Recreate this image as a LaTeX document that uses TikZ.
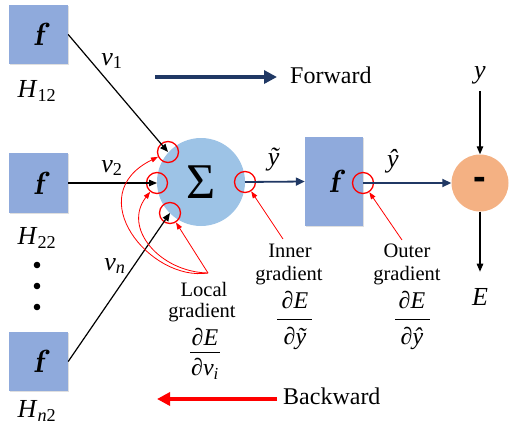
\documentclass[tikz,border=0pt]{standalone}
\usepackage{fontspec}
\setmainfont{Liberation Serif}
\newfontfamily\lsans{Liberation Sans}
\usetikzlibrary{arrows.meta,shadows}
\definecolor{boxblue}{HTML}{8FAADC}
\definecolor{sumblue}{HTML}{9DC3E6}
\definecolor{minusorange}{HTML}{F4B183}
\definecolor{navy}{HTML}{203864}
\definecolor{redc}{HTML}{FF0000}
\begin{document}
\begin{tikzpicture}[x=1pt,y=-1pt,
  fbox/.style={rectangle,fill=boxblue,draw=none,inner sep=0pt,
    drop shadow={shadow xshift=1.2pt,shadow yshift=-1.2pt,opacity=0.25},
    font=\fontsize{32}{32}\fontfamily{lmr}\bfseries\itshape\selectfont},
  redring/.style={circle,draw=redc,line width=1.3pt,minimum size=21pt,inner sep=0pt},
  blk/.style={-{Triangle[length=8pt,width=6.5pt]},line width=1.2pt,black},
  nav/.style={-{Triangle[length=9pt,width=8pt]},line width=1.8pt,navy},
  redarr/.style={-{Triangle[length=7pt,width=5pt]},line width=0.8pt,redc},
  lab/.style={font=\fontsize{26}{26}\selectfont,inner sep=0pt},
  glab/.style={font=\fontsize{20.5}{20.5}\selectfont,inner sep=0pt},
  frac/.style={font=\fontsize{24}{24}\selectfont\itshape,inner sep=0pt},
  big/.style={font=\fontsize{24}{24}\selectfont,inner sep=0pt,anchor=west}]
\useasboundingbox (0,0) rectangle (509,429);
% blocks
\node[fbox,minimum width=59pt,minimum height=59pt] (b1) at (38.5,34.5) {f};
\node[fbox,minimum width=59pt,minimum height=60pt] (b2) at (38.5,183) {f};
\node[fbox,minimum width=59pt,minimum height=59pt] (b3) at (38.5,361.5) {f};
\node[circle,fill=sumblue,minimum size=88pt,inner sep=0pt,
  font=\fontsize{50}{50}\selectfont] (sum) at (201,182) {Σ};
\node[fbox,minimum width=58pt,minimum height=89pt] (f2) at (334,181.5) {f};
\node[circle,fill=minusorange,minimum size=57pt,inner sep=0pt,
  font=\fontsize{38}{38}\selectfont\lsans\bfseries] (mn) at (480,183) {-};
% labels
\node[lab] (h1) at (37,91) {\textit{H}\textsubscript{12}};
\node[lab] (h2) at (37,238) {\textit{H}\textsubscript{22}};
\node[lab] (h3) at (37,411) {\textit{H}\textsubscript{\textit{n}2}};
\fill (37,265) circle (3.3pt) (37,286) circle (3.3pt) (37,307) circle (3.3pt);
\node[lab] (v1) at (112,61) {\textit{v}\textsubscript{1}};
\node[lab] (v2) at (112,168) {\textit{v}\textsubscript{2}};
\node[lab] (vn) at (115,266) {\textit{v}\textsubscript{\textit{n}}};
\node[lab] (yt) at (274,160) {\textit{ỹ}};
\node[lab] (yh) at (393,161) {\textit{ŷ}};
\node[lab] (yy) at (480,75) {\textit{y}};
\node[lab] (ee) at (480,297) {\textit{E}};
% red rings
\node[redring] (c1) at (168,152) {};
\node[redring] (c2) at (157,183) {};
\node[redring] (c3) at (170,213) {};
\node[redring] (c4) at (245,182) {};
\node[redring] (c5) at (363,183) {};
% forward connectors
\draw[blk] (b1.east) -- (c1.center);
\draw[blk] (b2.east) -- (c2.center);
\draw[blk] (b3.east) -- (c3.center);
\draw[nav] (c4.center) -- (f2.west);
\draw[nav] (c5.center) -- (mn.west);
\draw[blk] (yy.south) ++(0,7) -- (mn.north);
\draw[blk] (mn.south) -- ++(0,60);
% forward / backward
\node[big] (fw) at (290,75) {Forward};
\coordinate (fwa) at (155,77);
\draw[-{Triangle[length=13pt,width=13pt]},line width=3.5pt,navy] (fwa) -- (277,77);
\node[big] (bw) at (283,396) {Backward};
\coordinate (bwa) at (277,399);
\draw[-{Triangle[length=13pt,width=13pt]},line width=3.5pt,redc] (bwa) -- (157,399);
% gradient labels
\node[glab] (lg1) at (204,289) {Local};
\node[glab] (lg2) at (202,313) {gradient};
\node[frac] (ln) at (205,337) {∂E};
\draw[line width=0.8pt] (190,352) -- (220,352);
\node[frac] (ld) at (205,369) {∂v\textsubscript{\textit{i}}};
\node[glab] (ig1) at (290,251) {Inner};
\node[glab] (ig2) at (289,276) {gradient};
\node[frac] (inum) at (295,300) {∂E};
\draw[line width=0.8pt] (277,319) -- (312,319);
\node[frac] (iden) at (295,338) {∂ỹ};
\node[glab] (og1) at (407,251) {Outer};
\node[glab] (og2) at (407,276) {gradient};
\node[frac] (onum) at (412,300) {∂E};
\draw[line width=0.8pt] (395,319) -- (430,319);
\node[frac] (oden) at (412,338) {∂ŷ};
% red gradient arrows
\coordinate (apex) at (208,273);
\draw[redarr] (apex) -- (c3);
\draw[redarr] (apex) .. controls (150,282) and (80,195) .. (c1);
\draw[redarr] (apex) .. controls (160,272) and (122,228) .. (c2);
\coordinate (ia) at (283,239);
\draw[redarr] (ia) -- (c4);
\coordinate (oa) at (402,240);
\draw[redarr] (oa) -- (c5);
\end{tikzpicture}
\end{document}
